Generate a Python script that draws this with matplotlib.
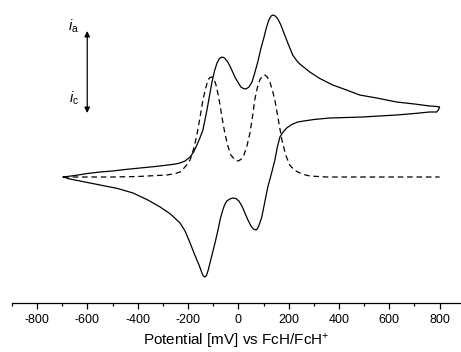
import matplotlib
matplotlib.use("Agg")
import matplotlib.pyplot as plt
from matplotlib.ticker import MultipleLocator

plt.rcParams['font.family'] = ['Liberation Sans', 'DejaVu Sans']
plt.rcParams['mathtext.fontset'] = 'custom'
plt.rcParams['mathtext.rm'] = 'Liberation Sans'
plt.rcParams['mathtext.it'] = 'Liberation Sans:italic'

# cyclic voltammogram, forward (anodic) scan: potential in mV, current in arb. units
cv_fwd_e = [-696, -650, -600, -550, -500, -450, -391, -330, -280, -250, -232,
            -212, -192, -178, -165, -153, -141, -125, -115, -105, -95, -85, -75,
            -65, -55, -42, -28, -14, 0, 10, 20, 30, 42, 54, 65, 77, 89, 101, 111,
            121, 130, 137, 147, 157, 169, 181, 198, 216, 230, 244, 264, 284, 320,
            375, 430, 482, 550, 629, 700, 760, 790, 800]
cv_fwd_i = [0.0, 0.15, 0.35, 0.5, 0.6, 0.75, 0.9, 1.05, 1.2, 1.3, 1.4,
            1.6, 2.0, 2.5, 3.2, 3.9, 4.7, 6.7, 8.1, 9.5, 10.6, 11.4, 11.85,
            12.0, 11.9, 11.5, 10.8, 10.0, 9.4, 9.0, 8.85, 8.8, 9.0, 9.5, 10.4,
            11.5, 12.8, 13.9, 14.9, 15.7, 16.1, 16.2, 16.1, 15.8, 15.2, 14.4,
            13.3, 12.2, 11.7, 11.3, 10.9, 10.5, 9.9, 9.2, 8.7, 8.2, 7.9, 7.5,
            7.3, 7.1, 7.05, 7.0]

# reverse (cathodic) scan
cv_rev_e = [800, 795, 788, 760, 700, 629, 560, 494, 430, 363, 300, 260, 236,
            212, 192, 178, 165, 155, 145, 131, 117, 105, 93, 81, 75, 69, 60, 50,
            38, 26, 14, 2, -10, -22, -34, -46, -55, -62, -72, -81, -93, -105,
            -113, -121, -127, -133, -139, -145, -152, -158, -165, -178, -192,
            -212, -232, -270, -311, -360, -419, -480, -550, -620, -670, -696]
cv_rev_i = [7.0, 6.7, 6.5, 6.5, 6.35, 6.2, 6.1, 6.0, 5.95, 5.9, 5.75, 5.6, 5.5,
            5.25, 4.9, 4.5, 4.0, 3.0, 1.7, 0.3, -1.0, -2.5, -4.0, -4.9, -5.2,
            -5.3, -5.2, -4.9, -4.3, -3.6, -2.9, -2.4, -2.15, -2.1, -2.2, -2.4,
            -2.8, -3.3, -4.2, -5.3, -6.6, -7.8, -8.6, -9.4, -9.85, -10.0, -9.9,
            -9.6, -9.1, -8.7, -8.3, -7.5, -6.6, -5.4, -4.6, -3.7, -3.0, -2.3,
            -1.6, -1.15, -0.8, -0.45, -0.2, 0.0]

# differential pulse voltammogram (dashed)
dpv_e = [-696, -600, -500, -400, -284, -250, -232, -212, -192, -178, -165,
         -153, -141, -131, -121, -113, -105, -97, -89, -81, -73, -64, -54, -42,
         -30, -15, -2, 10, 22, 34, 46, 56, 65, 75, 85, 95, 105, 115, 125, 135,
         145, 159, 173, 188, 204, 220, 236, 260, 284, 351, 450, 600, 800]
dpv_i = [0.0, 0.0, 0.0, 0.05, 0.2, 0.35, 0.5, 1.0, 1.7, 2.8, 4.2, 5.9, 7.7,
         8.8, 9.7, 9.95, 10.0, 9.8, 9.2, 8.3, 7.2, 5.8, 4.4, 3.1, 2.2, 1.75,
         1.6, 1.75, 2.2, 3.1, 4.4, 6.0, 7.7, 8.9, 9.7, 10.1, 10.2, 10.0, 9.5,
         8.7, 7.7, 5.7, 3.7, 2.2, 1.2, 0.75, 0.5, 0.25, 0.1, 0.0, 0.0, 0.0, 0.0]

fig = plt.figure(figsize=(4.61, 3.52), dpi=100)
ax = fig.add_axes([12 / 461, 49 / 352, 449 / 461, 303 / 352])

ax.plot(cv_fwd_e + cv_rev_e, cv_fwd_i + cv_rev_i, color='black', lw=0.9)
ax.plot(dpv_e, dpv_i, color='black', lw=0.9, ls=(0, (4.5, 3)))

ax.set_xlim(-900, 885)
ax.set_ylim(-12.6, 17.7)

for s in ['top', 'left', 'right']:
    ax.spines[s].set_visible(False)
ax.spines['bottom'].set_linewidth(0.9)
ax.set_yticks([])
ax.xaxis.set_major_locator(MultipleLocator(200))
ax.xaxis.set_minor_locator(MultipleLocator(100))
ax.tick_params(axis='x', which='major', direction='out', length=4, width=0.9,
               labelsize=9, pad=4)
ax.tick_params(axis='x', which='minor', direction='out', length=2.2, width=0.9)
ax.set_xticks(range(-800, 801, 200))
ax.set_xticklabels([str(v) for v in range(-800, 801, 200)])
ax.set_xlabel('Potential [mV] vs FcH/FcH$^{+}$', fontsize=11, labelpad=4)

# current direction arrow
ax.annotate('', xy=(-601, 14.6), xytext=(-601, 6.4),
            arrowprops=dict(arrowstyle='<|-|>', color='black', lw=0.9,
                            mutation_scale=8, shrinkA=0, shrinkB=0))
ax.text(-635, 15.1, r'$i_{\mathrm{a}}$', fontsize=10.5, ha='right', va='center')
ax.text(-635, 7.9, r'$i_{\mathrm{c}}$', fontsize=10.5, ha='right', va='center')

fig.savefig('out.png', dpi=100)
